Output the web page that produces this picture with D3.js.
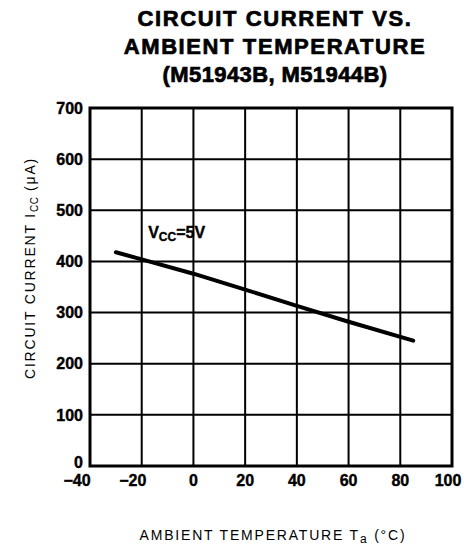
<!DOCTYPE html>
<html>
<head>
<meta charset="utf-8">
<script src="https://cdn.jsdelivr.net/npm/d3@7"></script>
<style>
  body { margin: 0; background: #fff; }
  svg { display: block; }
  text { font-family: "Liberation Sans", Arial, sans-serif; fill: #000; }
</style>
</head>
<body>
<div id="chart"></div>
<script>
// values
const temps = [-30, -20, 0, 20, 40, 60, 85];
const current = [418, 404, 376, 345, 313, 282, 245];
const xTicks = [-40, -20, 0, 20, 40, 60, 80, 100];
const yTicks = [0, 100, 200, 300, 400, 500, 600, 700];
const titleLines = ["CIRCUIT CURRENT VS.", "AMBIENT TEMPERATURE", "(M51943B, M51944B)"];

const W = 464, H = 545;
const margin = { top: 108, right: 12, bottom: 79, left: 90 };
const width = W - margin.left - margin.right;
const height = H - margin.top - margin.bottom;

const svg = d3.select("#chart").append("svg")
  .attr("width", W)
  .attr("height", H);

const g = svg.append("g")
  .attr("transform", "translate(" + margin.left + "," + margin.top + ")");

const x = d3.scaleLinear().domain([-40, 100]).range([0, width]);
const y = d3.scaleLinear().domain([0, 700]).range([height, 0]);

// title
svg.append("g").selectAll("text")
  .data(titleLines)
  .enter().append("text")
    .attr("x", 275)
    .attr("y", (d, i) => 26 + i * 28)
    .attr("text-anchor", "middle")
    .style("font-size", "22px")
    .style("font-weight", "bold")
    .style("letter-spacing", (d, i) => i === 2 ? "0.4px" : "1.6px")
    .attr("stroke", "#000").attr("stroke-width", 0.7)
    .text(d => d);

// grid
g.append("g").selectAll("line")
  .data(xTicks.slice(1, -1))
  .enter().append("line")
    .attr("x1", d => x(d)).attr("x2", d => x(d))
    .attr("y1", 0).attr("y2", height)
    .attr("stroke", "#000").attr("stroke-width", 2);

g.append("g").selectAll("line")
  .data(yTicks.slice(1, -1))
  .enter().append("line")
    .attr("y1", d => y(d)).attr("y2", d => y(d))
    .attr("x1", 0).attr("x2", width)
    .attr("stroke", "#000").attr("stroke-width", 2);

g.append("rect")
  .attr("width", width).attr("height", height)
  .attr("fill", "none").attr("stroke", "#000").attr("stroke-width", 3);

// tick labels
g.append("g").selectAll("text")
  .data(yTicks)
  .enter().append("text")
    .attr("x", -7)
    .attr("y", d => y(d))
    .attr("dy", d => d === 0 ? "0.1em" : "0.36em")
    .attr("text-anchor", "end")
    .style("font-size", "16px")
    .style("font-weight", "bold")
    .attr("stroke", "#000").attr("stroke-width", 0.4)
    .text(d => d);

g.append("g").selectAll("text")
  .data(xTicks)
  .enter().append("text")
    .attr("x", d => x(d) + (d === -40 ? -13 : d === -20 ? -9 : d === 100 ? -4 : 0))
    .attr("y", height + 20)
    .attr("text-anchor", "middle")
    .style("font-size", "16px")
    .style("font-weight", "bold")
    .attr("stroke", "#000").attr("stroke-width", 0.4)
    .text(d => d < 0 ? "\u2212" + Math.abs(d) : d);

// axis titles
const yl = svg.append("text")
  .attr("transform", "translate(35," + (margin.top + 160) + ") rotate(-90)")
  .attr("text-anchor", "middle")
  .style("font-size", "14px")
  .style("letter-spacing", "1.8px");
yl.append("tspan").text("CIRCUIT CURRENT  I");
yl.append("tspan").attr("dy", 3).style("font-size", "10px").style("letter-spacing", "0.5px").text("CC");
yl.append("tspan").attr("dy", -3).text(" (\u03BCA)");

const xl = svg.append("text")
  .attr("x", 273)
  .attr("y", 540)
  .attr("text-anchor", "middle")
  .style("font-size", "14px")
  .style("letter-spacing", "1.8px");
xl.append("tspan").text("AMBIENT TEMPERATURE  T");
xl.append("tspan").attr("dy", 3).style("font-size", "12px").text("a");
xl.append("tspan").attr("dy", -3).text(" (\u00B0C)");

// curve
const line = d3.line()
  .x((d, i) => x(temps[i]))
  .y(d => y(d));

g.append("path")
  .datum(current)
  .attr("d", line)
  .attr("fill", "none")
  .attr("stroke", "#000")
  .attr("stroke-width", 4)
  .attr("stroke-linecap", "round");

// Vcc label
const vl = g.append("text")
  .attr("x", x(-17.5))
  .attr("y", y(445))
  .style("font-size", "16px")
  .style("font-weight", "bold")
  .attr("stroke", "#000").attr("stroke-width", 0.4);
vl.append("tspan").text("V");
vl.append("tspan").attr("dy", 3).style("font-size", "12px").text("CC");
vl.append("tspan").attr("dy", -3).text("=5V");
</script>
</body>
</html>
